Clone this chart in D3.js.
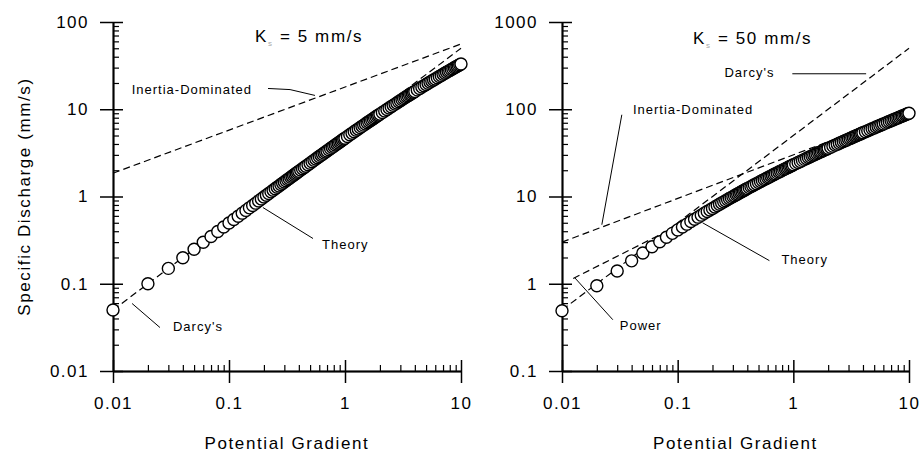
<!DOCTYPE html>
<html>
<head>
<meta charset="utf-8">
<script src="https://cdn.jsdelivr.net/npm/d3@7"></script>
<style>
  body { margin: 0; background: #fff; }
  svg { display: block; font-family: Arial, "Liberation Sans", sans-serif; }
  .axis path, .axis line { stroke: #000; stroke-width: 1.5; }
  .axis text { font-size: 17px; fill: #000; letter-spacing: 1.5px; font-family: Arial, "Liberation Sans", sans-serif; }
  .minor line { stroke-width: 1.2; }
  .note { font-size: 13px; letter-spacing: 1px; fill: #000; }
  .title { font-size: 17px; letter-spacing: 1.6px; fill: #000; }
</style>
</head>
<body>
<script>
// potential gradient of the plotted points (same for both panels)
var gradient = [0.01, 0.02, 0.03, 0.04, 0.05, 0.06, 0.07, 0.08, 0.09, 0.1,
  0.11, 0.12, 0.13, 0.14, 0.15, 0.16, 0.17, 0.18, 0.19, 0.2,
  0.21, 0.22, 0.23, 0.24, 0.25, 0.26, 0.27, 0.28, 0.29, 0.3,
  0.31, 0.32, 0.33, 0.34, 0.35, 0.36, 0.37, 0.38, 0.39, 0.4,
  0.415, 0.43, 0.445, 0.46, 0.48, 0.5, 0.52, 0.54, 0.56, 0.58,
  0.6, 0.62, 0.64, 0.66, 0.68, 0.7, 0.725, 0.75, 0.775, 0.8,
  0.825, 0.85, 0.875, 0.9, 0.925, 0.95, 0.975, 1,
  1.05, 1.1, 1.15, 1.2, 1.25, 1.3, 1.35, 1.4, 1.45, 1.5,
  1.55, 1.6, 1.65, 1.7, 1.75, 1.8, 1.85, 1.9, 1.95, 2,
  2.1, 2.2, 2.3, 2.4, 2.5, 2.6, 2.7, 2.8, 2.9, 3,
  3.1, 3.2, 3.3, 3.4, 3.5, 3.6, 3.7, 3.8, 3.9, 4,
  4.2, 4.4, 4.6, 4.8, 5, 5.2, 5.4, 5.6, 5.8, 6,
  6.25, 6.5, 6.75, 7, 7.25, 7.5, 7.75, 8, 8.25, 8.5,
  8.75, 9, 9.25, 9.5, 9.75, 10];

// specific discharge (mm/s), Ks = 5 mm/s
var theory5 = [0.050, 0.100, 0.150, 0.199, 0.249, 0.299, 0.348, 0.397, 0.447, 0.496,
  0.545, 0.594, 0.644, 0.693, 0.741, 0.790, 0.839, 0.888, 0.936, 0.985,
  1.033, 1.082, 1.130, 1.178, 1.227, 1.275, 1.323, 1.371, 1.419, 1.467,
  1.514, 1.562, 1.610, 1.657, 1.705, 1.752, 1.800, 1.847, 1.894, 1.941,
  2.012, 2.082, 2.153, 2.223, 2.316, 2.409, 2.502, 2.595, 2.687, 2.779,
  2.871, 2.963, 3.054, 3.145, 3.236, 3.327, 3.440, 3.553, 3.665, 3.777,
  3.889, 4.000, 4.111, 4.222, 4.332, 4.442, 4.552, 4.661,
  4.879, 5.095, 5.310, 5.524, 5.737, 5.948, 6.158, 6.367, 6.576, 6.782,
  6.989, 7.193, 7.396, 7.599, 7.800, 8.001, 8.200, 8.399, 8.597, 8.793,
  9.184, 9.570, 9.953, 10.33, 10.71, 11.08, 11.45, 11.82, 12.18, 12.54,
  12.90, 13.26, 13.61, 13.96, 14.31, 14.65, 14.99, 15.33, 15.67, 16.00,
  16.67, 17.32, 17.97, 18.60, 19.23, 19.85, 20.47, 21.07, 21.67, 22.27,
  23.01, 23.72, 24.44, 25.14, 25.85, 26.52, 27.20, 27.88, 28.54, 29.20,
  29.85, 30.49, 31.13, 31.76, 32.39, 33.0];

// specific discharge (mm/s), Ks = 50 mm/s
var theory50 = [0.49, 0.95, 1.40, 1.83, 2.25, 2.65, 3.03, 3.41, 3.78, 4.14,
  4.48, 4.82, 5.16, 5.48, 5.80, 6.11, 6.42, 6.72, 7.01, 7.30,
  7.59, 7.87, 8.15, 8.42, 8.68, 8.95, 9.21, 9.47, 9.72, 9.97,
  10.22, 10.46, 10.70, 10.94, 11.18, 11.41, 11.64, 11.87, 12.09, 12.32,
  12.65, 12.98, 13.30, 13.62, 14.03, 14.44, 14.85, 15.24, 15.63, 16.02,
  16.40, 16.77, 17.14, 17.50, 17.86, 18.21, 18.65, 19.08, 19.50, 19.92,
  20.33, 20.74, 21.14, 21.53, 21.92, 22.31, 22.69, 23.07,
  23.81, 24.54, 25.25, 25.94, 26.63, 27.30, 27.96, 28.60, 29.24, 29.87,
  30.48, 31.09, 31.69, 32.28, 32.86, 33.43, 34.00, 34.56, 35.11, 35.66,
  36.73, 37.78, 38.80, 39.81, 40.79, 41.76, 42.71, 43.64, 44.55, 45.45,
  46.34, 47.21, 48.07, 48.92, 49.75, 50.57, 51.39, 52.19, 52.98, 53.76,
  55.29, 56.79, 58.26, 59.69, 61.10, 62.48, 63.83, 65.16, 66.46, 67.75,
  69.32, 70.87, 72.38, 73.87, 75.33, 76.77, 78.18, 79.57, 80.95, 82.29,
  83.62, 84.94, 86.23, 87.51, 88.77, 90.0];

// dashed reference lines (end points)
var lineGradient = [0.01, 10];
var darcy5 = [0.05, 50];
var inertia5 = [1.85, 56];
var darcy50 = [0.5, 500];
var inertia50 = [3.0, 95];
var powerGradient = [0.0125, 10];
var power50 = [1.15, 100];

// ticks
var xTicks = [0.01, 0.1, 1, 10];
var yTicks5 = [0.01, 0.1, 1, 10, 100];
var yTicks50 = [0.1, 1, 10, 100, 1000];

// annotations, placed in data units
var notes5 = [
  {text: "Inertia-Dominated", at: [0.0145, 15.0], leader: [[0.217, 17.3], [0.336, 16.8], [0.551, 14.4]]},
  {text: "Theory", at: [0.634, 0.247], leader: [[0.196, 0.748], [0.53, 0.33]]},
  {text: "Darcy's", at: [0.0329, 0.0291], leader: [[0.0146, 0.0594], [0.0254, 0.0315]]}
];
var notes50 = [
  {text: "Darcy's", at: [0.254, 236], leader: [[0.98, 255], [4.26, 255]]},
  {text: "Inertia-Dominated", at: [0.041, 88.8], leader: [[0.0329, 86.5], [0.0221, 4.75]]},
  {text: "Theory", at: [0.789, 1.70], leader: [[0.164, 5.0], [0.621, 1.84]]},
  {text: "Power", at: [0.0316, 0.297], leader: [[0.0129, 1.17], [0.0275, 0.387]]}
];

var W = 920, H = 455;
var svg = d3.select("body").append("svg").attr("width", W).attr("height", H);

function zip(xs, ys) {
  return xs.map(function(d, i) { return [d, ys[i]]; });
}

var panels = [
  {left: 113, right: 461, yDomain: [0.01, 100], yTicks: yTicks5, q: theory5, ks: "5",
   lines: [zip(lineGradient, darcy5), zip(lineGradient, inertia5)], notes: notes5, yTitle: true},
  {left: 562, right: 909, yDomain: [0.1, 1000], yTicks: yTicks50, q: theory50, ks: "50",
   lines: [zip(lineGradient, darcy50), zip(lineGradient, inertia50), zip(powerGradient, power50)], notes: notes50, yTitle: false}
];

panels.forEach(function(p) {
  var top = 22, bottom = 371;
  var x = d3.scaleLog().domain([0.01, 10]).range([p.left, p.right]);
  var y = d3.scaleLog().domain(p.yDomain).range([bottom, top]);
  var g = svg.append("g");

  var xMinor = x.ticks().filter(function(d) { return xTicks.indexOf(d) < 0; });
  var yMinor = y.ticks().filter(function(d) { return p.yTicks.indexOf(d) < 0; });

  // axes: major ticks cross the axis, minor ticks inside
  g.append("g").attr("class", "axis").attr("transform", "translate(0," + bottom + ")")
    .call(d3.axisBottom(x).tickValues(xTicks).tickSize(12).tickSizeOuter(0).tickPadding(14)
      .tickFormat(function(d) { return String(d); }));
  g.append("g").attr("class", "axis").attr("transform", "translate(0," + bottom + ")")
    .call(d3.axisTop(x).tickValues(xTicks).tickSize(11).tickSizeOuter(0).tickFormat(""));
  g.append("g").attr("class", "axis minor").attr("transform", "translate(0," + bottom + ")")
    .call(d3.axisTop(x).tickValues(xMinor).tickSize(6).tickSizeOuter(0).tickFormat(""));

  g.append("g").attr("class", "axis").attr("transform", "translate(" + p.left + ",0)")
    .call(d3.axisLeft(y).tickValues(p.yTicks).tickSize(13).tickSizeOuter(0).tickPadding(11)
      .tickFormat(function(d) { return String(d); }));
  g.append("g").attr("class", "axis").attr("transform", "translate(" + p.left + ",0)")
    .call(d3.axisRight(y).tickValues(p.yTicks).tickSize(10).tickSizeOuter(0).tickFormat(""));
  g.append("g").attr("class", "axis minor").attr("transform", "translate(" + p.left + ",0)")
    .call(d3.axisRight(y).tickValues(yMinor).tickSize(6).tickSizeOuter(0).tickFormat(""));

  // dashed model lines
  var line = d3.line().x(function(d) { return x(d[0]); }).y(function(d) { return y(d[1]); });
  p.lines.forEach(function(l) {
    g.append("path").attr("d", line(l))
      .attr("fill", "none").attr("stroke", "#000").attr("stroke-width", 1.2)
      .attr("stroke-dasharray", "7,4");
  });

  // theory points
  g.selectAll(".pt").data(zip(gradient, p.q)).enter()
    .append("circle").attr("class", "pt")
    .attr("cx", function(d) { return x(d[0]); })
    .attr("cy", function(d) { return y(d[1]); })
    .attr("r", 6)
    .attr("fill", "#fff").attr("stroke", "#000").attr("stroke-width", 1.4);

  // leaders and labels
  p.notes.forEach(function(n) {
    g.append("path").attr("d", line(n.leader))
      .attr("fill", "none").attr("stroke", "#000").attr("stroke-width", 1);
    g.append("text").attr("class", "note")
      .attr("x", x(n.at[0])).attr("y", y(n.at[1])).text(n.text);
  });

  // Ks label
  var ksText = g.append("text").attr("class", "title")
    .attr("x", p.left + (p.ks === "5" ? 142 : 131)).attr("y", p.ks === "5" ? 42 : 44);
  ksText.append("tspan").text("K");
  ksText.append("tspan").attr("dy", 4).attr("font-size", 8).attr("fill", "#aaa").text("s");
  ksText.append("tspan").attr("dy", -4).text(" = " + p.ks + " mm/s");

  // axis titles
  g.append("text").attr("class", "title")
    .attr("x", (p.left + p.right) / 2).attr("y", 449)
    .attr("text-anchor", "middle").text("Potential Gradient");
  if (p.yTitle) {
    g.append("text").attr("class", "title")
      .attr("transform", "translate(30," + (top + bottom) / 2 + ")rotate(-90)")
      .attr("text-anchor", "middle").text("Specific Discharge (mm/s)");
  }
});
</script>
</body>
</html>
